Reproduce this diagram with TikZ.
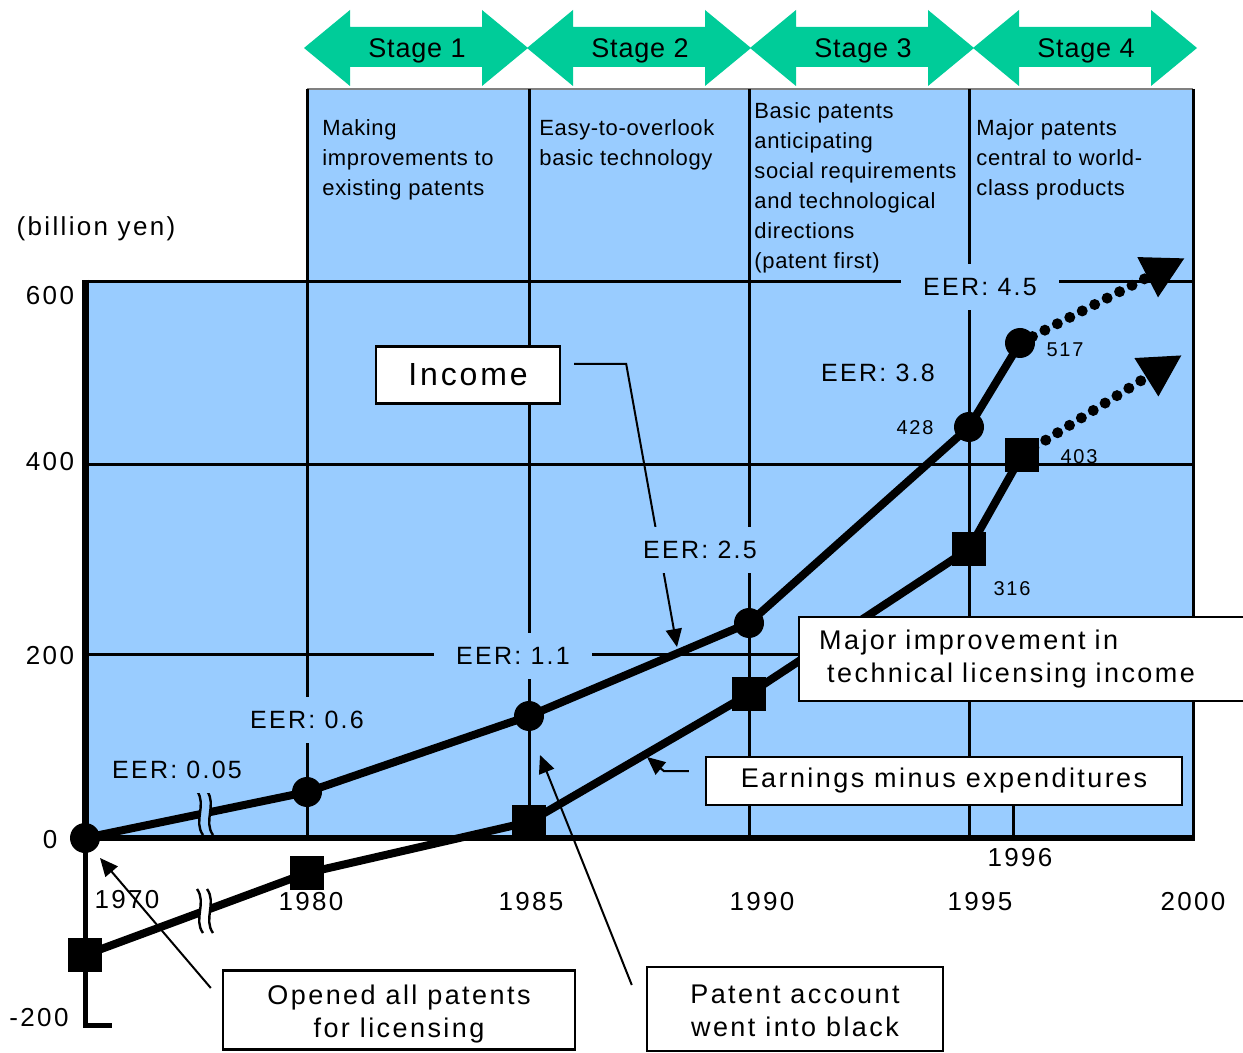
\documentclass[tikz,border=0pt]{standalone}
\usepackage{fontspec}
\setmainfont[LetterSpace=9]{Liberation Sans}
\newfontfamily\stagefont[LetterSpace=3]{Liberation Sans}
\usetikzlibrary{arrows.meta}
\definecolor{chartblue}{RGB}{153,204,255}
\definecolor{stagegreen}{RGB}{0,204,153}

\begin{document}
\begin{tikzpicture}[x=0.5pt, y=-0.5pt,
    gridline/.style={line width=1.5pt},
    series/.style={line width=4pt, line join=round},
    trend/.style={line width=5.5pt, line cap=round, dash pattern=on 0pt off 7pt, -{Triangle[length=21pt,width=21pt]}},
    eer/.style={fill=chartblue, font=\fontsize{12.5}{15}\selectfont, inner xsep=11pt, inner ysep=7pt},
    vallabel/.style={font=\fontsize{10}{12}\selectfont},
    axlabel/.style={font=\fontsize{13}{15}\selectfont},
    callbox/.style={draw, fill=white, line width=1.2pt, font=\fontsize{13.5}{16.5}\selectfont, align=center},
    leader/.style={line width=1pt, -{Triangle[length=9pt,width=8pt]}},
    stagetext/.style={anchor=north west, inner sep=0pt, align=left, font=\stagefont\fontsize{11}{15}\selectfont}
]
    \useasboundingbox (0,0) rectangle (1243,1053);

    % FONS BLAU
    \fill[chartblue] (85,282) rectangle (1193,838);
    \fill[chartblue] (307,89) rectangle (1193,282);
    \draw[gray, line width=0.6pt] (307,89) -- (1193,89);

    % FLETXES DE LES ETAPES
    \foreach \xl/\n in {304/1, 527/2, 750/3, 973/4} {
        \fill[stagegreen] (\xl,48) -- (\xl+46,10) -- (\xl+46,27) -- (\xl+178,27) -- (\xl+178,10)
            -- (\xl+224,48) -- (\xl+178,86) -- (\xl+178,67) -- (\xl+46,67) -- (\xl+46,86) -- cycle;
        \node[font=\stagefont\fontsize{13.5}{16}\selectfont] (stage\n) at (\xl+113,51) {Stage \n};
    }

    % QUADRICULA I EIXOS
    \foreach \y in {282,465,654} \draw[gridline] (85,\y) -- (1193,\y);
    \foreach \x in {307,529,749,969,1193} \draw[gridline] (\x,89) -- (\x,838);
    \draw[gridline] (1013,760) -- (1013,838);
    \draw[line width=3.5pt] (85,280) -- (85,838);
    \draw[line width=2.5pt] (85,838) -- (85,1025) -- (112,1025);
    \draw[line width=3pt] (85,838) -- (1195,838);

    % PUNTS DE LES SERIES
    \coordinate (i70) at (85,838);   \coordinate (e70) at (85,955);
    \coordinate (i80) at (307,792);  \coordinate (e80) at (307,873);
    \coordinate (i85) at (529,716);  \coordinate (e85) at (529,822);
    \coordinate (i90) at (749,623);  \coordinate (e90) at (749,694);
    \coordinate (i95) at (969,427);  \coordinate (e95) at (969,549);
    \coordinate (i96) at (1020,343); \coordinate (e96) at (1022,455);
    \coordinate (iEnd) at (1185,258); \coordinate (eEnd) at (1182,355);

    % INGRESSOS (cercles) i BENEFICI NET (quadrats)
    \draw[series] (i70) -- (i80) -- (i85) -- (i90) -- (i95) -- (i96);
    \draw[series] (e70) -- (e80) -- (e85) -- (e90) -- (e95) -- (e96);
    \draw[trend] (i96) -- (iEnd);
    \draw[trend] (e96) -- (eEnd);
    \foreach \p in {i70,i80,i85,i90,i95,i96} \fill (\p) circle (7.5pt);
    \foreach \p in {e70,e80,e85,e90,e95,e96}
        \fill ([shift={(-8.5pt,-8.5pt)}]\p) rectangle ([shift={(8.5pt,8.5pt)}]\p);

    % TALLS D'ESCALA
    \foreach \cx/\cy/\bg in {205/813/chartblue, 205/911/white} {
        \fill[\bg] (\cx-5,\cy-9) rectangle (\cx+5,\cy+9);
        \foreach \dx in {-5,5}
            \draw[line width=1.2pt] (\cx+\dx-3,\cy-22) .. controls (\cx+\dx+7,\cy-8) and (\cx+\dx-7,\cy+8) .. (\cx+\dx+3,\cy+22);
    }

    % CAIXES
    \node[callbox, minimum width=92pt, minimum height=28.5pt, font=\fontsize{16}{19}\selectfont] (inc) at (468,375) {Income};
    \node[callbox, anchor=west, minimum height=42pt, text width=210pt, align=left, inner xsep=10pt] (major) at (798,659)
        {Major improvement in\\\hspace{4pt}technical licensing income};
    \node[callbox, minimum width=238pt, minimum height=24pt] (earn) at (944,781) {Earnings minus expenditures};
    \node[callbox, minimum width=176pt, minimum height=39pt] (opened) at (399,1010) {\rule{0pt}{13.5pt}Opened all patents\\for licensing};
    \node[callbox, minimum width=148pt, minimum height=42pt] (black) at (795,1009) {\rule{0pt}{11pt}Patent account\\went into black};

    % FLETXES DE LES CAIXES
    \coordinate (incHit) at (677,647);
    \coordinate (earnHit) at (647,757);
    \coordinate (openHit) at (100,858);
    \coordinate (blackHit) at (540,755);
    \draw[leader] ([xshift=6.5pt,yshift=5.5pt]inc.east) -- ++(52,0) -- (incHit);
    \draw[leader] ([xshift=-8pt,yshift=5pt]earn.west) -- ++(-25,0) -- (earnHit);
    \draw[leader] ([xshift=-5.5pt,yshift=11pt]opened.west) -- (openHit);
    \draw[leader] ([xshift=-7pt,yshift=12pt]black.west) -- (blackHit);

    % RATIOS EER
    \node[eer] (eer1) at (177,770) {EER: 0.05};
    \node[eer] (eer2) at (307,720) {EER: 0.6};
    \node[eer] (eer3) at (513,656) {EER: 1.1};
    \node[eer] (eer4) at (700,550) {EER: 2.5};
    \node[eer] (eer5) at (878,373) {EER: 3.8};
    \node[eer] (eer6) at (980,287) {EER: 4.5};

    % VALORS
    \node[vallabel] (v428) at (915,428) {428};
    \node[vallabel] (v517) at (1065,350) {517};
    \node[vallabel] (v403) at (1079,457) {403};
    \node[vallabel] (v316) at (1012,589) {316};

    % ETIQUETES DELS EIXOS
    \node[axlabel] (unit) at (96,229) {(billion yen)};
    \foreach \v/\y in {600/296, 400/462, 200/656, 0/840} \node[axlabel] (y\v) at (50,\y) {\v};
    \node[axlabel] (yneg) at (39,1018) {-200};
    \foreach \yr/\x/\y in {1970/127/900, 1980/311/902, 1985/531/902, 1990/762/902, 1995/980/902, 2000/1193/902, 1996/1020/858}
        \node[axlabel] (x\yr) at (\x,\y) {\yr};

    % TEXTOS DE LES ETAPES
    \node[stagetext] (d1) at (322,119) {Making\\improvements to\\existing patents};
    \node[stagetext] (d2) at (539,119) {Easy-to-overlook\\basic technology};
    \node[stagetext] (d3) at (754,102) {Basic patents\\anticipating\\social requirements\\and technological\\directions\\(patent first)};
    \node[stagetext] (d4) at (976,119) {Major patents\\central to world-\\class products};

\end{tikzpicture}
\end{document}
